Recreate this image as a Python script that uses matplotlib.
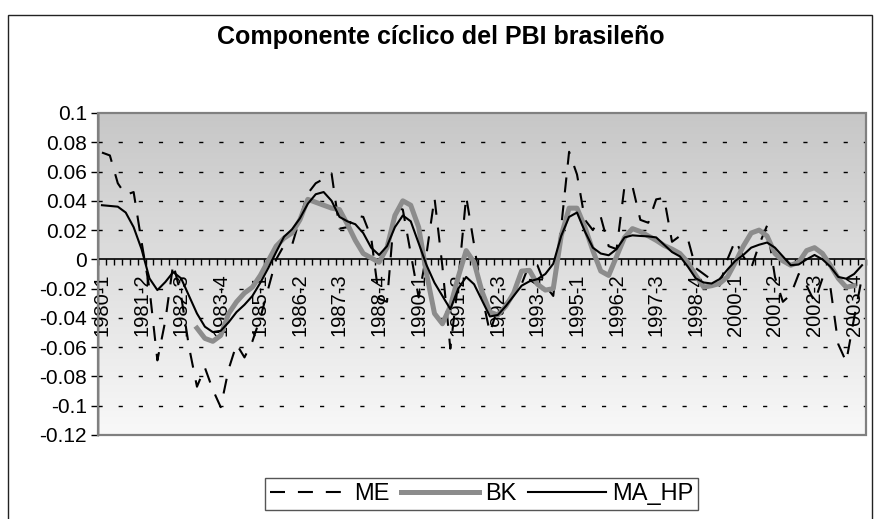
import matplotlib
matplotlib.use("Agg")
import matplotlib.pyplot as plt
import numpy as np
from matplotlib.patches import Rectangle
from matplotlib.ticker import FixedLocator, FuncFormatter

plt.rcParams["font.family"] = ["Liberation Sans", "DejaVu Sans"]

# quarterly cyclical component, 1980-1 .. 2004-1 (97 quarters)
me = [0.073, 0.071, 0.052, 0.044, 0.046, 0.012, -0.020, -0.069, -0.042, -0.003,
      -0.025, -0.060, -0.087, -0.074, -0.089, -0.101, -0.075, -0.058, -0.067, -0.056,
      -0.040, -0.020, 0.000, 0.0096, 0.0096, 0.028, 0.045, 0.052, 0.055, 0.0587,
      0.021, 0.022, 0.030, 0.029, 0.015, -0.027, -0.029, 0.036, 0.034, 0.004,
      -0.026, 0.004, 0.042, -0.005, -0.061, -0.015, 0.043, 0.010, -0.025, -0.050,
      -0.033, -0.030, -0.024, -0.017, -0.003, -0.004, -0.018, -0.025, 0.022, 0.0735,
      0.058, 0.027, 0.020, 0.029, 0.009, 0.007, 0.050, 0.050, 0.027, 0.025,
      0.041, 0.042, 0.012, 0.016, 0.014, -0.006, -0.010, -0.014, -0.018, 0.000,
      0.013, 0.002, -0.006, 0.010, 0.023, -0.012, -0.029, -0.024, -0.010, -0.018,
      -0.029, -0.013, -0.019, -0.058, -0.070, -0.040, -0.012]

bk = [np.nan] * 12 + [
      -0.047, -0.054, -0.056, -0.052, -0.037, -0.029, -0.023, -0.019,
      -0.011, -0.001, 0.009, 0.0145, 0.018, 0.027, 0.041, 0.039, 0.037, 0.035,
      0.034, 0.024, 0.013, 0.004, 0.001, -0.002, 0.008, 0.030, 0.040, 0.037,
      0.022, -0.010, -0.037, -0.044, -0.032, -0.012, 0.006, -0.002, -0.022, -0.036,
      -0.038, -0.032, -0.023, -0.008, -0.0075, -0.017, -0.021, -0.020, 0.016, 0.035,
      0.035, 0.022, 0.006, -0.008, -0.011, 0.002, 0.015, 0.021, 0.019, 0.016,
      0.013, 0.0095, 0.007, 0.004, -0.002, -0.011, -0.019, -0.018, -0.0165, -0.012,
      -0.002, 0.009, 0.018, 0.020, 0.016, 0.004, -0.001, -0.004, -0.002, 0.006,
      0.008, 0.004, -0.004, -0.013, -0.019, -0.018] + [np.nan]

ma_hp = [0.037, 0.0365, 0.036, 0.032, 0.022, 0.007, -0.013, -0.021, -0.0155, -0.0087,
         -0.013, -0.025, -0.037, -0.046, -0.0497, -0.0488, -0.043, -0.036, -0.031, -0.025,
         -0.016, -0.006, 0.005, 0.0155, 0.0205, 0.028, 0.038, 0.0445, 0.046, 0.040,
         0.029, 0.026, 0.024, 0.018, 0.008, 0.003, 0.009, 0.022, 0.030, 0.026,
         0.011, -0.004, -0.016, -0.025, -0.034, -0.020, -0.012, -0.017, -0.028, -0.039,
         -0.038, -0.032, -0.025, -0.018, -0.015, -0.0135, -0.010, -0.003, 0.016, 0.029,
         0.032, 0.019, 0.008, 0.004, 0.0028, 0.007, 0.015, 0.0164, 0.016, 0.0157,
         0.015, 0.010, 0.005, 0.002, -0.005, -0.013, -0.0158, -0.0165, -0.0135, -0.007,
         -0.001, 0.003, 0.008, 0.010, 0.0115, 0.008, 0.002, -0.004, -0.0035, 0.000,
         0.003, 0.000, -0.005, -0.012, -0.0132, -0.010, -0.004]

tick_labels = ["1980-1", "1981-2", "1982-3", "1983-4", "1985-1", "1986-2", "1987-3",
               "1988-4", "1990-1", "1991-2", "1992-3", "1993-4", "1995-1", "1996-2",
               "1997-3", "1998-4", "2000-1", "2001-2", "2002-3", "2003-4"]
y_ticks = [-0.12, -0.1, -0.08, -0.06, -0.04, -0.02, 0, 0.02, 0.04, 0.06, 0.08, 0.1]

n = len(me)
x = np.arange(n)

fig = plt.figure(figsize=(8.76, 5.19), dpi=100)
ax = fig.add_axes([98 / 876, 1 - 435 / 519, 768 / 876, 322 / 519])

# grey gradient plot area
top = np.array([0.78, 0.78, 0.78])
bot = np.array([0.975, 0.975, 0.975])
t = np.linspace(0, 1, 256)[:, None, None]
grad = top * (1 - t) + bot * t
ax.imshow(grad, extent=[-0.5, n - 0.5, -0.12, 0.1], aspect="auto",
          origin="upper", zorder=0, interpolation="bilinear")

for yv in y_ticks:
    if yv in (0, 0.1, -0.12):
        continue
    ax.axhline(yv, color="black", lw=1.0, dashes=(3, 11.5), zorder=1)

ax.plot(x, me, color="black", lw=1.5, dashes=(7.2, 6.2), label="ME", zorder=3)
ax.plot(x, bk, color="#8c8c8c", lw=3.6, label="BK", zorder=4,
        solid_joinstyle="round")
ax.plot(x, ma_hp, color="black", lw=1.5, label="MA_HP", zorder=5)

ax.set_xlim(-0.5, n - 0.5)
ax.set_ylim(-0.12, 0.1)

ax.spines["bottom"].set_position(("data", 0))
ax.spines["bottom"].set_linewidth(1.2)
ax.spines["top"].set_visible(False)
ax.spines["right"].set_visible(False)
ax.spines["left"].set_color("black")
ax.spines["left"].set_linewidth(1.0)

ax.set_xticks(np.arange(0, n, 5)[:len(tick_labels)])
ax.set_xticklabels(tick_labels, rotation=90, fontsize=14.5)
ax.xaxis.set_minor_locator(FixedLocator(np.arange(n + 1) - 0.5))
ax.tick_params(axis="x", which="major", length=0, pad=10)
ax.tick_params(axis="x", which="minor", length=4, width=1, direction="out")

ax.set_yticks(y_ticks)
ax.yaxis.set_major_formatter(FuncFormatter(lambda v, p: "%g" % round(v, 3)))
ax.tick_params(axis="y", length=5, width=1, direction="out", labelsize=15, pad=3)

# plot-area frame
ax.add_patch(Rectangle((0, 0), 1, 1, transform=ax.transAxes, fill=False,
                       edgecolor="#808080", lw=1.6, clip_on=False, zorder=6))

fig.text(441 / 876, 1 - 37 / 519, "Componente cíclico del PBI brasileño",
         ha="center", va="center", fontsize=18, fontweight="bold")

leg = ax.legend(loc="center", bbox_to_anchor=(481.5 / 876, 1 - 494 / 519),
                bbox_transform=fig.transFigure, ncol=3, fontsize=17,
                frameon=True, fancybox=False, framealpha=1, edgecolor="#555555",
                handlelength=3.3, handletextpad=0.25, columnspacing=0.5,
                borderpad=0.2, borderaxespad=0)
leg.get_frame().set_linewidth(1.0)

# outer chart border (bottom edge falls below the image)
fig.patches.append(Rectangle((8 / 876, -0.05), (872 - 8) / 876, 1.05 - 15 / 519,
                             transform=fig.transFigure, fill=False,
                             edgecolor="#222222", lw=1.0))

fig.savefig("out.png", dpi=100)
